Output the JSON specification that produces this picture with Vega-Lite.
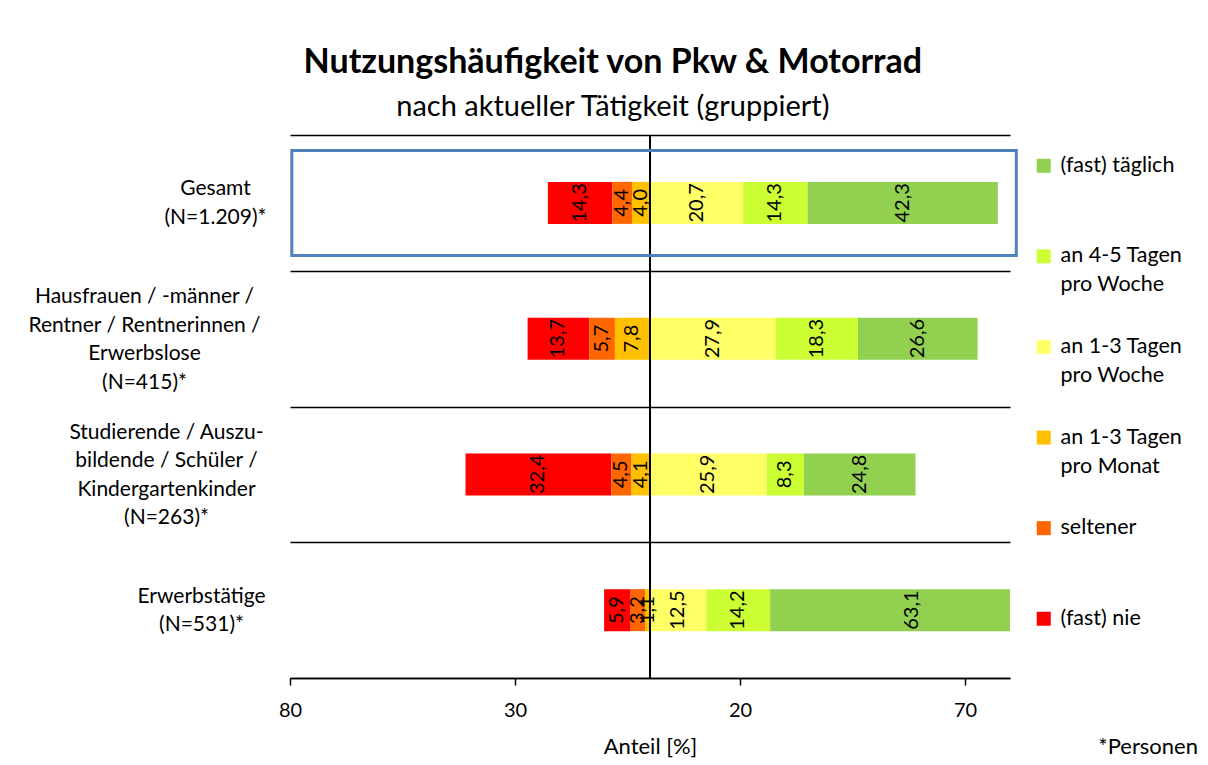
{
  "$schema": "https://vega.github.io/schema/vega-lite/v6.json",
  "width": 720,
  "height": 543,
  "autosize": {"type": "none"},
  "padding": {"left": 290, "top": 135, "right": 198, "bottom": 87},
  "background": "white",
  "title": {
    "text": "Nutzungshäufigkeit von Pkw & Motorrad",
    "subtitle": "nach aktueller Tätigkeit (gruppiert)",
    "anchor": "middle",
    "frame": "bounds",
    "font": "Lato",
    "fontSize": 34,
    "fontWeight": "bold",
    "color": "black",
    "subtitleFont": "Lato",
    "subtitleFontSize": 29,
    "subtitleColor": "black",
    "subtitlePadding": 13,
    "offset": 2
  },
  "config": {
    "locale": {"number": {"decimal": ",", "thousands": ".", "grouping": [3], "currency": ["", " €"], "minus": ""}},
    "view": {"stroke": null},
    "font": "Lato",
    "style": {"guide-label": {"lineHeight": 29}}
  },
  "data": {
    "values": [
      {"gruppe": "Gesamt\n(N=1.209)*", "haeufigkeit": "(fast) nie", "rang": 3, "wert": -14.3},
      {"gruppe": "Gesamt\n(N=1.209)*", "haeufigkeit": "seltener", "rang": 2, "wert": -4.4},
      {"gruppe": "Gesamt\n(N=1.209)*", "haeufigkeit": "an 1-3 Tagen\npro Monat", "rang": 1, "wert": -4.0},
      {"gruppe": "Gesamt\n(N=1.209)*", "haeufigkeit": "an 1-3 Tagen\npro Woche", "rang": 4, "wert": 20.7},
      {"gruppe": "Gesamt\n(N=1.209)*", "haeufigkeit": "an 4-5 Tagen\npro Woche", "rang": 5, "wert": 14.3},
      {"gruppe": "Gesamt\n(N=1.209)*", "haeufigkeit": "(fast) täglich", "rang": 6, "wert": 42.3},
      {"gruppe": "Hausfrauen / -männer /\nRentner / Rentnerinnen /\nErwerbslose\n(N=415)*", "haeufigkeit": "(fast) nie", "rang": 3, "wert": -13.7},
      {"gruppe": "Hausfrauen / -männer /\nRentner / Rentnerinnen /\nErwerbslose\n(N=415)*", "haeufigkeit": "seltener", "rang": 2, "wert": -5.7},
      {"gruppe": "Hausfrauen / -männer /\nRentner / Rentnerinnen /\nErwerbslose\n(N=415)*", "haeufigkeit": "an 1-3 Tagen\npro Monat", "rang": 1, "wert": -7.8},
      {"gruppe": "Hausfrauen / -männer /\nRentner / Rentnerinnen /\nErwerbslose\n(N=415)*", "haeufigkeit": "an 1-3 Tagen\npro Woche", "rang": 4, "wert": 27.9},
      {"gruppe": "Hausfrauen / -männer /\nRentner / Rentnerinnen /\nErwerbslose\n(N=415)*", "haeufigkeit": "an 4-5 Tagen\npro Woche", "rang": 5, "wert": 18.3},
      {"gruppe": "Hausfrauen / -männer /\nRentner / Rentnerinnen /\nErwerbslose\n(N=415)*", "haeufigkeit": "(fast) täglich", "rang": 6, "wert": 26.6},
      {"gruppe": "Studierende / Auszu-\nbildende / Schüler /\nKindergartenkinder\n(N=263)*", "haeufigkeit": "(fast) nie", "rang": 3, "wert": -32.4},
      {"gruppe": "Studierende / Auszu-\nbildende / Schüler /\nKindergartenkinder\n(N=263)*", "haeufigkeit": "seltener", "rang": 2, "wert": -4.5},
      {"gruppe": "Studierende / Auszu-\nbildende / Schüler /\nKindergartenkinder\n(N=263)*", "haeufigkeit": "an 1-3 Tagen\npro Monat", "rang": 1, "wert": -4.1},
      {"gruppe": "Studierende / Auszu-\nbildende / Schüler /\nKindergartenkinder\n(N=263)*", "haeufigkeit": "an 1-3 Tagen\npro Woche", "rang": 4, "wert": 25.9},
      {"gruppe": "Studierende / Auszu-\nbildende / Schüler /\nKindergartenkinder\n(N=263)*", "haeufigkeit": "an 4-5 Tagen\npro Woche", "rang": 5, "wert": 8.3},
      {"gruppe": "Studierende / Auszu-\nbildende / Schüler /\nKindergartenkinder\n(N=263)*", "haeufigkeit": "(fast) täglich", "rang": 6, "wert": 24.8},
      {"gruppe": "Erwerbstätige\n(N=531)*", "haeufigkeit": "(fast) nie", "rang": 3, "wert": -5.9},
      {"gruppe": "Erwerbstätige\n(N=531)*", "haeufigkeit": "seltener", "rang": 2, "wert": -3.2},
      {"gruppe": "Erwerbstätige\n(N=531)*", "haeufigkeit": "an 1-3 Tagen\npro Monat", "rang": 1, "wert": -1.1},
      {"gruppe": "Erwerbstätige\n(N=531)*", "haeufigkeit": "an 1-3 Tagen\npro Woche", "rang": 4, "wert": 12.5},
      {"gruppe": "Erwerbstätige\n(N=531)*", "haeufigkeit": "an 4-5 Tagen\npro Woche", "rang": 5, "wert": 14.2},
      {"gruppe": "Erwerbstätige\n(N=531)*", "haeufigkeit": "(fast) täglich", "rang": 6, "wert": 63.1}
    ]
  },
  "layer": [
    {
      "mark": {"type": "bar", "size": 42, "clip": true},
      "encoding": {
        "y": {
          "field": "gruppe",
          "type": "nominal",
          "sort": null,
          "scale": {"paddingInner": 0, "paddingOuter": 0},
          "axis": {
            "title": null,
            "domain": false,
            "ticks": false,
            "grid": true,
            "tickBand": "extent",
            "gridColor": "black",
            "gridWidth": 1.5,
            "gridOpacity": 1,
            "labelExpr": "split(datum.label, '\\n')",
            "labelAlign": "center",
            "labelBaseline": "middle",
            "labelFont": "Lato",
            "labelFontSize": 21,
            "labelLineHeight": 28.5,
            "labelColor": "black",
            "labelLimit": 400,
            "labelPadding": {
              "condition": [
                {"test": "isString(datum.value) && indexof(datum.value, 'Gesamt') == 0", "value": 75},
                {"test": "isString(datum.value) && indexof(datum.value, 'Hausfrauen') == 0", "value": 146},
                {"test": "isString(datum.value) && indexof(datum.value, 'Studierende') == 0", "value": 124}
              ],
              "value": 89
            },
            "labelOffset": {
              "condition": {"test": "isString(datum.value) && (indexof(datum.value, 'Hausfrauen') == 0 || indexof(datum.value, 'Studierende') == 0)", "value": -42},
              "value": -14
            }
          }
        },
        "x": {
          "field": "wert",
          "type": "quantitative",
          "stack": "zero",
          "scale": {"domain": [-80, 80], "nice": false},
          "axis": {
            "values": [-80, -30, 20, 70],
            "format": "d",
            "title": "Anteil [%]",
            "grid": false,
            "domainColor": "black",
            "domainWidth": 1.5,
            "tickColor": "black",
            "tickSize": 7,
            "tickWidth": 1.5,
            "labelFont": "Lato",
            "labelFontSize": 20,
            "labelColor": "black",
            "labelPadding": 15,
            "labelFlush": false,
            "titleFont": "Lato",
            "titleFontSize": 22,
            "titleFontWeight": "normal",
            "titleColor": "black",
            "titlePadding": 16
          }
        },
        "color": {
          "field": "haeufigkeit",
          "type": "nominal",
          "scale": {
            "domain": ["(fast) täglich", "an 4-5 Tagen\npro Woche", "an 1-3 Tagen\npro Woche", "an 1-3 Tagen\npro Monat", "seltener", "(fast) nie"],
            "range": ["#92D050", "#CCFF33", "#FFFF66", "#FFC000", "#FF6600", "#FF0000"]
          },
          "legend": {
            "orient": "none",
            "legendX": 743,
            "legendY": 20,
            "title": null,
            "padding": 0,
            "symbolType": "square",
            "symbolSize": 196,
            "symbolStrokeWidth": 0,
            "symbolOpacity": 1,
            "labelFont": "Lato",
            "labelFontSize": 21.5,
            "labelColor": "black",
            "labelExpr": "split(indexof(datum.label, '\\n') < 0 ? datum.label + '\\n ' : datum.label, '\\n')",
            "labelOffset": 6,
            "labelLimit": 300,
            "rowPadding": 38.6
          }
        },
        "order": {"field": "rang", "type": "quantitative"}
      }
    },
    {
      "data": {"values": [{}]},
      "mark": {"type": "rule", "color": "black", "strokeWidth": 2},
      "encoding": {"x": {"datum": 0}}
    },
    {
      "mark": {"type": "text", "angle": 270, "font": "Lato", "fontSize": 20, "color": "black", "align": "center", "baseline": "middle"},
      "encoding": {
        "y": {"field": "gruppe", "type": "nominal", "sort": null},
        "x": {"field": "wert", "type": "quantitative", "stack": "zero", "bandPosition": 0.5},
        "detail": {"field": "haeufigkeit", "type": "nominal"},
        "order": {"field": "rang", "type": "quantitative"},
        "text": {"field": "wert", "type": "quantitative", "format": ".1f"}
      }
    },
    {
      "data": {"values": [{}]},
      "mark": {"type": "bar", "size": 105, "fillOpacity": 0, "stroke": "#4F81BD", "strokeWidth": 3, "clip": false},
      "encoding": {
        "x": {"datum": -79.6},
        "x2": {"datum": 81.4},
        "y": {"datum": "Gesamt\n(N=1.209)*"}
      }
    },
    {
      "data": {"values": [{"hinweis": "*Personen"}]},
      "mark": {"type": "text", "font": "Lato", "fontSize": 22, "color": "black", "align": "right", "baseline": "middle", "dx": 188, "dy": 137},
      "encoding": {
        "x": {"datum": 80},
        "y": {"datum": "Erwerbstätige\n(N=531)*"},
        "text": {"field": "hinweis"}
      }
    }
  ]
}
